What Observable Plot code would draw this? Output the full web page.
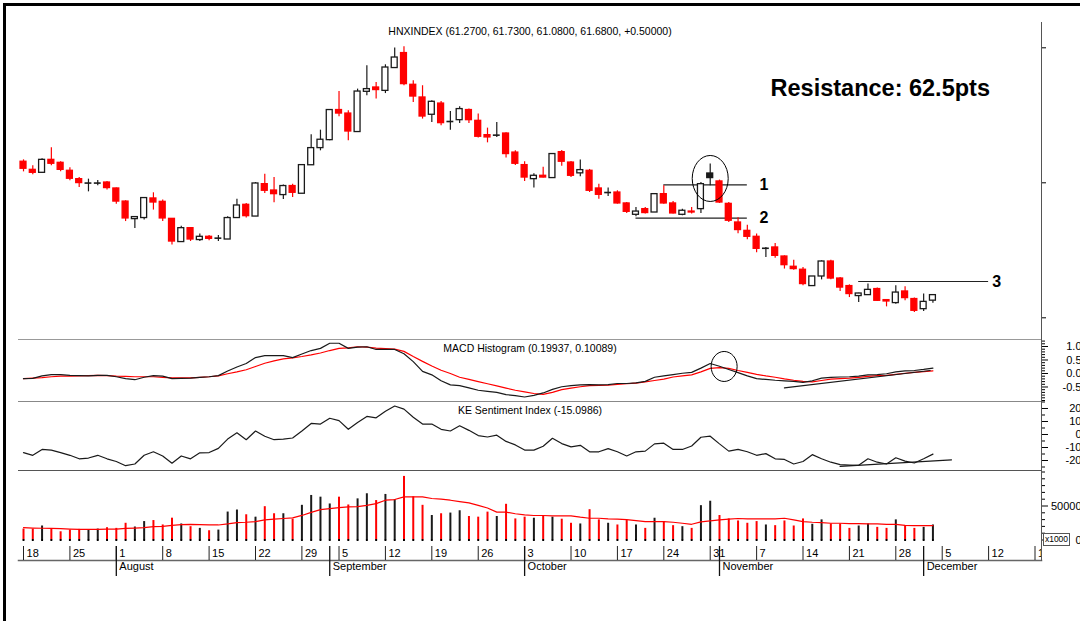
<!DOCTYPE html>
<html><head><meta charset="utf-8">
<script src="https://cdn.jsdelivr.net/npm/d3@7"></script>
<script src="https://cdn.jsdelivr.net/npm/@observablehq/plot@0.6"></script>
<style>
body{margin:0;background:#fff;}
#chart{position:relative;width:1080px;height:621px;overflow:hidden;background:#fff;font-family:"Liberation Sans",Arial,sans-serif;}
#border{position:absolute;left:3px;top:3px;width:1200px;height:700px;border-top:3px solid #000;border-left:3px solid #000;z-index:5;}
#unit{position:absolute;left:1043px;top:533px;width:25px;height:11px;border:1px solid #555;font-size:8.5px;line-height:11px;text-align:center;color:#000;background:#fff;z-index:4;}
</style></head><body>
<div id="chart"><div id="border"></div><div id="unit">x1000</div></div>
<script>
// ---------- data ----------
const firstDay = "2011-07-18";
const lastAxisDay = "2011-12-31";
const holidays = ["2011-09-02"];

const open = [71.56,70.96,70.74,71.70,71.48,70.89,70.27,69.98,69.98,70.02,
69.58,68.61,67.31,67.39,68.84,68.59,67.33,65.61,66.64,65.76,
66.00,65.90,65.80,67.39,68.37,67.50,69.90,69.43,69.09,69.76,
69.19,71.30,72.57,73.16,75.39,75.13,73.76,76.74,77.06,76.81,
78.50,79.61,77.26,76.32,75.04,75.87,74.54,74.64,75.39,74.59,
73.53,73.53,73.65,72.24,71.31,70.27,70.52,70.35,72.27,71.50,
70.70,70.89,69.58,69.28,69.28,68.47,67.63,68.05,67.80,69.16,
68.47,67.63,67.87,68.05,70.69,70.10,68.44,67.06,66.44,66.00,
65.15,65.21,64.54,63.78,63.56,62.35,63.06,64.17,62.91,62.35,
61.61,61.68,62.13,61.31,61.09,61.95,61.39,60.64,61.27];
const high = [71.70,71.26,71.78,72.59,71.56,71.11,70.39,70.27,70.17,70.10,
69.62,68.67,67.50,68.91,69.26,68.72,67.36,66.79,66.66,66.20,
66.10,66.10,67.48,68.79,68.47,70.02,70.64,70.39,69.83,69.90,
71.33,73.56,73.90,75.41,76.76,75.33,76.94,78.67,77.43,78.74,
79.98,80.07,77.56,77.19,76.07,76.02,75.28,75.63,75.46,75.09,
74.05,74.47,73.70,72.37,71.56,70.67,71.16,72.13,72.39,71.58,
71.68,70.99,69.90,69.61,69.41,68.54,68.17,68.17,69.16,69.78,
68.61,68.05,68.17,70.02,71.39,70.20,68.54,67.41,66.85,66.20,
65.21,65.50,64.59,64.27,63.73,63.06,64.22,64.27,62.99,62.44,
61.82,62.50,62.20,61.31,62.37,62.30,61.46,61.76,61.73];
const low = [70.81,70.59,70.70,71.26,70.81,70.15,69.65,69.33,69.78,69.46,
68.42,67.13,66.61,67.24,67.98,67.13,65.39,65.61,65.65,65.65,
65.70,65.65,65.80,67.39,67.39,67.50,69.21,68.52,68.76,68.91,
69.19,71.28,72.37,73.11,74.89,73.11,73.76,76.44,76.20,76.61,
78.50,77.19,75.95,74.72,74.47,74.22,73.90,74.39,74.39,73.31,
72.96,73.36,71.83,71.28,70.10,69.61,70.35,70.35,71.22,70.39,
70.44,69.28,68.79,68.99,68.42,67.73,67.48,67.68,67.80,68.42,
67.68,67.56,67.68,67.73,69.78,68.47,67.06,66.22,65.78,64.81,
64.47,64.42,63.61,63.53,62.37,62.35,62.81,62.81,61.95,61.50,
61.13,61.68,61.21,60.81,61.01,61.26,60.39,60.47,61.08];
const close = [71.04,70.74,71.70,71.41,70.96,70.30,69.98,69.98,69.98,69.61,
68.61,67.36,67.46,68.87,68.54,67.36,65.65,66.64,65.80,66.00,
65.85,65.90,67.39,68.32,67.53,69.95,69.41,69.16,69.76,69.26,
71.31,72.57,73.19,75.39,75.13,73.80,76.76,76.94,76.87,78.54,
79.28,77.31,76.39,74.91,76.00,74.42,74.54,75.46,74.64,73.41,
73.36,73.53,72.13,71.41,70.39,70.52,70.39,72.13,71.56,70.52,
70.94,69.41,69.11,69.28,68.47,67.85,67.87,67.76,69.16,68.47,
67.73,67.93,67.80,69.90,70.35,68.54,67.19,66.50,66.00,65.11,
65.15,64.59,63.90,63.61,62.50,63.06,64.17,62.91,62.24,61.76,
61.80,62.07,61.26,61.21,61.87,61.46,60.52,61.18,61.68];
const volume = [16100,16000,20600,16600,12100,14600,15600,14600,16100,18100,
17100,24600,19100,27100,28600,22100,32100,23600,19600,17100,
13600,14600,41100,44100,37100,33600,49000,38600,38600,30600,
51000,65500,63000,53000,63000,51500,60500,68000,58000,67000,
59500,93500,63500,51000,36000,38600,39600,43000,34600,33600,
41000,34600,52500,31000,33600,32000,34600,33600,30600,24600,
23600,44600,29600,24600,22100,28600,22100,17100,32000,27100,
21100,19600,17100,50500,57000,36000,31000,28000,24600,27100,
22100,21100,28000,20600,31000,23100,29600,23600,23600,17100,
20600,23600,18600,17100,29600,21100,17100,18600,22100];
const volumeAvg = [18100,17600,17300,17100,16600,16100,15600,15600,15600,16100,
16100,17100,17600,18100,19600,20100,21600,22600,23100,22600,
22100,22100,23600,25600,26100,27100,29600,30600,31600,32600,
36100,40600,44600,46000,47600,48600,49000,51000,53500,58500,
59500,63500,63500,63500,61000,60000,58500,56500,54500,51000,
47000,41000,41000,38600,37000,36000,36000,35600,35600,35600,
33600,32000,32000,31000,30600,30100,28600,27100,27100,27100,
26100,24600,23100,26600,28100,29600,30600,31600,31000,31000,
31000,31000,32000,29600,27100,26100,25600,24600,24600,24100,
24100,23600,23600,23100,23100,21600,21100,21100,21100];
const macd = [-0.19,-0.18,-0.09,-0.04,-0.04,-0.07,-0.08,-0.09,-0.07,-0.07,
-0.12,-0.19,-0.23,-0.14,-0.08,-0.10,-0.19,-0.18,-0.17,-0.14,
-0.12,-0.08,0.09,0.24,0.37,0.59,0.66,0.66,0.66,0.59,
0.72,0.85,0.93,1.12,1.12,0.93,0.98,0.99,0.89,0.89,
0.89,0.73,0.44,0.08,-0.05,-0.27,-0.42,-0.45,-0.53,-0.62,
-0.66,-0.70,-0.78,-0.82,-0.87,-0.81,-0.72,-0.59,-0.49,-0.45,
-0.42,-0.41,-0.42,-0.41,-0.37,-0.37,-0.35,-0.29,-0.14,-0.09,
-0.04,0.01,0.04,0.20,0.37,0.27,0.15,0.03,-0.09,-0.19,
-0.22,-0.25,-0.27,-0.29,-0.33,-0.27,-0.17,-0.14,-0.13,-0.12,
-0.10,-0.05,-0.04,-0.01,0.06,0.10,0.11,0.15,0.20];
const signal = [-0.19,-0.17,-0.15,-0.12,-0.10,-0.10,-0.09,-0.08,-0.07,-0.08,
-0.10,-0.11,-0.12,-0.12,-0.12,-0.14,-0.16,-0.16,-0.16,-0.14,
-0.12,-0.09,-0.01,0.06,0.14,0.26,0.38,0.47,0.54,0.58,
0.63,0.69,0.76,0.85,0.93,0.95,0.99,0.98,0.94,0.92,
0.90,0.82,0.63,0.45,0.28,0.12,0.00,-0.14,-0.22,-0.30,
-0.38,-0.46,-0.54,-0.62,-0.68,-0.74,-0.77,-0.70,-0.60,-0.54,
-0.49,-0.45,-0.44,-0.43,-0.40,-0.38,-0.36,-0.31,-0.26,-0.21,
-0.13,-0.09,-0.05,0.06,0.19,0.22,0.19,0.11,0.04,-0.03,
-0.09,-0.14,-0.20,-0.25,-0.29,-0.31,-0.26,-0.21,-0.19,-0.17,
-0.14,-0.11,-0.08,-0.07,-0.03,0.01,0.04,0.07,0.10];
const sentiment = [-14.0,-16.0,-11.5,-12.0,-13.9,-16.0,-18.7,-18.1,-16.0,-18.7,
-20.8,-24.0,-22.7,-16.0,-13.3,-16.5,-22.1,-16.5,-18.7,-14.1,
-13.9,-10.7,-3.5,1.3,-4.0,2.7,-1.3,-4.0,-3.5,-2.7,
2.7,8.5,8.0,12.5,10.7,4.0,9.3,13.9,12.8,17.9,
21.9,19.5,13.3,8.0,8.0,4.0,2.7,6.7,3.2,-0.8,
-1.9,-0.5,-5.3,-8.0,-12.0,-12.0,-9.0,-2.9,-7.0,-9.5,
-8.3,-13.3,-13.3,-10.9,-13.3,-16.5,-13.3,-12.8,-7.2,-6.7,
-11.5,-11.5,-8.8,-2.1,-1.3,-7.2,-12.8,-11.5,-13.3,-16.0,
-14.7,-18.7,-19.2,-22.7,-20.8,-15.5,-18.7,-21.3,-23.2,-23.5,
-23.7,-18.7,-21.3,-22.7,-17.9,-20.5,-21.9,-18.7,-15.1];

const mainTitle = "HNXINDEX (61.2700, 61.7300, 61.0800, 61.6800, +0.50000)";
const macdTitle = "MACD Histogram (0.19937, 0.10089)";
const keTitle = "KE Sentiment Index (-15.0986)";
const resistanceNote = [{i: 80.5, v: 77.0, label: "Resistance: 62.5pts"}];

const priceTicks = [60, 70, 80];
const macdTicks = [-0.5, 0, 0.5, 1.0];
const keTicks = [-20, -10, 0, 10, 20];
const volTicks = [0, 50000];

const levelNames = ["1", "2", "3"];
const levelValues = [69.85, 67.39, 62.69];
const levelFrom = [69, 66, 90];
const levelTo = [78, 78, 104];
const levelLabelAt = [79.3, 79.3, 104.4];

const priceRing = {i: 74, v: 70.32, rx: 18, ry: 23};
const macdRing = {i: 75.5, v: 0.26, rx: 13, ry: 15};
const macdTrend = [{i: 82, v: -0.53}, {i: 97.7, v: 0.11}];
const keTrend = [{i: 88, v: -24.5}, {i: 100, v: -19.5}];

// ---------- build ----------
const RED = "#ff0000", INK = "#1a1a1a";
const fmtDay = d3.utcFormat("%Y-%m-%d");
const allDays = d3.utcDay.range(d3.utcParse("%Y-%m-%d")(firstDay), d3.utcParse("%Y-%m-%d")(lastAxisDay))
  .filter(d => d.getUTCDay() % 6 !== 0 && !holidays.includes(fmtDay(d)));

const data = close.map((c, i) => {
  const down = i === 0 ? c < open[i] : c < close[i - 1];
  return {i, o: open[i], h: high[i], l: low[i], c, v: volume[i], va: volumeAvg[i],
    m: macd[i], s: signal[i], k: sentiment[i],
    col: down ? RED : INK, fill: down ? RED : (c < open[i] ? INK : "#fff")};
});
const xMax = 109.7;
const weeks = allDays.map((d, i) => ({d, i})).filter(({d, i}) => d.getUTCDay() === 1 && i <= xMax)
  .map(({d, i}) => ({i, label: String(d.getUTCDate())}));
const months = allDays.map((d, i) => ({d, i}))
  .filter(({d, i}) => i > 0 && i <= xMax && d.getUTCMonth() !== allDays[i - 1].getUTCMonth())
  .map(({d, i}) => ({i, label: d3.utcFormat("%B")(d)}));

const hw = 0.32;
function ellipse(rx, ry) {
  const k = 0.5523;
  return {draw(c) {
    c.moveTo(rx, 0);
    c.bezierCurveTo(rx, ry * k, rx * k, ry, 0, ry);
    c.bezierCurveTo(-rx * k, ry, -rx, ry * k, -rx, 0);
    c.bezierCurveTo(-rx, -ry * k, -rx * k, -ry, 0, -ry);
    c.bezierCurveTo(rx * k, -ry, rx, -ry * k, rx, 0);
    c.closePath();
  }};
}

const common = {
  width: 1080, marginLeft: 18, marginRight: 39,
  x: {domain: [-0.54, xMax], axis: null},
  color: {type: "identity"},
  style: {background: "transparent", fontFamily: "Liberation Sans, Arial, sans-serif", fontSize: "11px", color: "#000", overflow: "visible"}
};
const chart = document.getElementById("chart");
function place(svg, top) {
  svg.style.position = "absolute"; svg.style.left = "0px"; svg.style.top = top + "px";
  chart.appendChild(svg);
}
const rightLabels = (ticks, fmt) => Plot.text(ticks, {y: d => d, text: fmt, frameAnchor: "right", dx: 40, textAnchor: "end", lineAnchor: "middle", fontSize: 11});
const panelTitle = (t, dy) => Plot.text([t], {frameAnchor: "top", dy, lineAnchor: "middle", fontSize: 10.5});

// main price panel: frame 22..339
const bodies = data.filter(d => d.o !== d.c);
const dojis = data.filter(d => d.o === d.c);
place(Plot.plot({
  ...common, height: 339, marginTop: 22, marginBottom: 0,
  y: {domain: [58.393, 81.874]},
  marks: [
    Plot.frame({anchor: "right", stroke: "#555"}),
    Plot.axisY({anchor: "right", ticks: priceTicks, tickSize: 4, tickFormat: () => "", label: null}),
    panelTitle(mainTitle, 9),
    Plot.ruleY(levelNames, {y: (d, k) => levelValues[k], x1: (d, k) => levelFrom[k], x2: (d, k) => levelTo[k], stroke: "#222", strokeWidth: 1.2}),
    Plot.text(levelNames, {x: (d, k) => levelLabelAt[k], y: (d, k) => levelValues[k], text: d => d, textAnchor: "start", fontSize: 16, fontWeight: "bold"}),
    Plot.ruleX(data, {x: "i", y1: "l", y2: "h", stroke: "col", strokeWidth: 1.2}),
    Plot.rect(bodies, {x1: d => d.i - hw, x2: d => d.i + hw, y1: "o", y2: "c", fill: "fill", stroke: "col", strokeWidth: 1.3}),
    Plot.ruleY(dojis, {y: "c", x1: d => d.i - hw - 0.05, x2: d => d.i + hw + 0.05, stroke: "col", strokeWidth: 1.6}),
    Plot.dot([priceRing], {x: "i", y: "v", r: 1, symbol: ellipse(priceRing.rx, priceRing.ry), stroke: "#000", fill: "none", strokeWidth: 1}),
    Plot.text(resistanceNote, {x: "i", y: "v", text: "label", textAnchor: "start", fontSize: 23.5, fontWeight: "bold"})
  ]
}), 0);

// MACD panel: frame 339..401
place(Plot.plot({
  ...common, height: 63, marginTop: 1, marginBottom: 0,
  y: {domain: [-1.037, 1.259]},
  marks: [
    Plot.frame({anchor: "top", stroke: "#999"}),
    Plot.frame({anchor: "right", stroke: "#555"}),
    Plot.axisY({anchor: "right", ticks: d3.range(-10, 13).map(k => k / 10).filter(t => !macdTicks.includes(t)), tickSize: 3, tickFormat: () => "", label: null}),
    Plot.axisY({anchor: "right", ticks: macdTicks, tickSize: 6, tickFormat: () => "", label: null}),
    rightLabels(macdTicks, d => d.toFixed(1)),
    panelTitle(macdTitle, 9),
    Plot.line(data, {x: "i", y: "s", stroke: RED, strokeWidth: 1.2}),
    Plot.line(data, {x: "i", y: "m", stroke: INK, strokeWidth: 1.2}),
    Plot.line(macdTrend, {x: "i", y: "v", stroke: INK, strokeWidth: 1.2}),
    Plot.dot([macdRing], {x: "i", y: "v", r: 1, symbol: ellipse(macdRing.rx, macdRing.ry), stroke: "#000", fill: "none", strokeWidth: 1})
  ]
}), 338);

// KE Sentiment panel: frame 401..470
place(Plot.plot({
  ...common, height: 70, marginTop: 1, marginBottom: 0,
  y: {domain: [-27.69, 25.38]},
  marks: [
    Plot.frame({anchor: "top", stroke: "#888"}),
    Plot.frame({anchor: "right", stroke: "#555"}),
    Plot.axisY({anchor: "right", ticks: [-25, -15, -5, 5, 15, 25], tickSize: 3, tickFormat: () => "", label: null}),
    Plot.axisY({anchor: "right", ticks: keTicks, tickSize: 6, tickFormat: () => "", label: null}),
    rightLabels(keTicks, d => String(d)),
    panelTitle(keTitle, 9.5),
    Plot.line(data, {x: "i", y: "k", stroke: INK, strokeWidth: 1.2}),
    Plot.line(keTrend, {x: "i", y: "v", stroke: INK, strokeWidth: 1.2})
  ]
}), 400);

// Volume panel: frame 470..539.5
place(Plot.plot({
  ...common, height: 70.5, marginTop: 1, marginBottom: 0,
  y: {domain: [0, 50000 * (539.5 - 470) / 34]},
  marks: [
    Plot.frame({anchor: "top", stroke: "#555"}),
    Plot.frame({anchor: "right", stroke: "#555"}),
    Plot.axisY({anchor: "right", ticks: d3.range(10000, 100001, 10000).filter(t => !volTicks.includes(t)), tickSize: 3, tickFormat: () => "", label: null}),
    Plot.axisY({anchor: "right", ticks: volTicks, tickSize: 6, tickFormat: () => "", label: null}),
    rightLabels(volTicks, d => String(d)),
    Plot.ruleX(data, {x: "i", y1: 0, y2: "v", stroke: "col", strokeWidth: 2}),
    Plot.dot(data, {x: "i", y: 0, r: 1.1, symbol: "square", fill: "#000"}),
    Plot.line(data, {x: "i", y: "va", stroke: RED, strokeWidth: 1.2})
  ]
}), 469);

// Date axis: frame 540..560
place(Plot.plot({
  ...common, height: 40, marginTop: 0, marginBottom: 20,
  marks: [
    Plot.frame({anchor: "bottom", stroke: "#666", strokeWidth: 1.5}),
    Plot.frame({anchor: "right", stroke: "#555"}),
    Plot.ruleX(weeks, {x: "i", stroke: "#222", insetTop: 6}),
    Plot.ruleX(months, {x: "i", stroke: "#111", strokeWidth: 1.3, insetTop: 6, insetBottom: -16}),
    Plot.text(weeks, {x: "i", text: "label", frameAnchor: "bottom", dy: -7, dx: 3, textAnchor: "start", lineAnchor: "middle", fontSize: 11, clip: true}),
    Plot.text(months, {x: "i", text: "label", frameAnchor: "bottom", dy: 6, dx: 3, textAnchor: "start", lineAnchor: "middle", fontSize: 11})
  ]
}), 540);
</script>
</body></html>
